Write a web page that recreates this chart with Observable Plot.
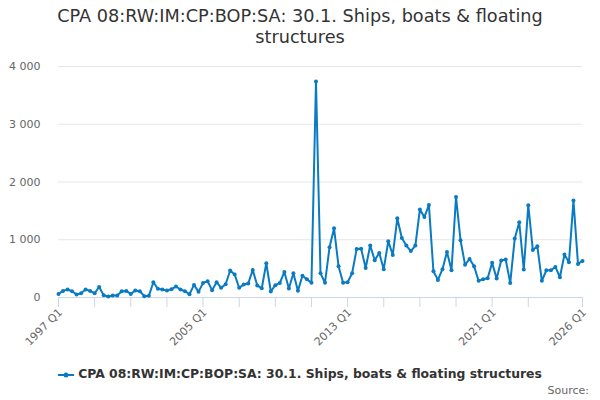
<!DOCTYPE html>
<html>
<head>
<meta charset="utf-8">
<script src="https://cdn.jsdelivr.net/npm/d3@7"></script>
<script src="https://cdn.jsdelivr.net/npm/@observablehq/plot@0.6"></script>
<style>
  body { margin: 0; background: #fff; }
  #wrap { position: relative; width: 600px; height: 400px; font-family: "DejaVu Sans", sans-serif; overflow: hidden; }
  #title { position: absolute; top: 6px; left: 40px; width: 520px; text-align: center; font-size: 17.7px; line-height: 21px; color: #333; }
  #chart { position: absolute; top: 50px; left: 0; }
  #legend { position: absolute; top: 366px; left: 0; width: 600px; text-align: center; font-size: 12.4px; font-weight: bold; color: #333; white-space: nowrap; }
  #legend svg { vertical-align: middle; margin-right: 4px; }
  #source { position: absolute; top: 384px; right: 11px; font-size: 11px; color: #666; }
</style>
</head>
<body>
<div id="wrap">
  <div id="title">CPA 08:RW:IM:CP:BOP:SA: 30.1. Ships, boats &amp; floating structures</div>
  <div id="chart"></div>
  <div id="legend"></div>
  <div id="source">Source:</div>
</div>
<script>
const seriesName = "CPA 08:RW:IM:CP:BOP:SA: 30.1. Ships, boats & floating structures";
const startYear = 1997;
const values = [
  62, 114, 138, 109, 52, 74, 138, 114, 74, 183, 40, 17, 35, 35, 109, 114,
  62, 120, 109, 23, 29, 265, 150, 138, 120, 144, 190, 138, 109, 57, 218, 98,
  253, 281, 127, 265, 167, 230, 467, 398, 167, 225, 242, 478, 207, 161, 593, 104,
  213, 253, 443, 155, 420, 115, 378, 314, 256, 3742, 418, 256, 870, 1199, 540, 256,
  265, 420, 838, 844, 510, 900, 646, 772, 490, 974, 738, 1372, 1030, 900, 804, 899,
  1522, 1395, 1600, 455, 305, 490, 789, 472, 1741, 991, 565, 668, 542, 288, 317, 334,
  600, 328, 640, 657, 253, 1020, 1303, 484, 1597, 824, 888, 288, 472, 472, 530, 351,
  743, 611, 1678, 582, 634
];
const labelTicks = ["1997 Q1", "2005 Q1", "2013 Q1", "2021 Q1", "2026 Q1"];
const yTicks = [0, 1000, 2000, 3000, 4000];
const gridTicks = [1000, 2000, 3000, 4000];

const quarters = values.map((_, i) => `${startYear + Math.floor(i / 4)} Q${(i % 4) + 1}`);
const data = values.map((v, i) => ({q: quarters[i], v}));
const minorTicks = quarters.filter((q, i) => i % 8 === 0 && i < quarters.length - 8).concat([quarters[quarters.length - 1]]);

const color = "#0a7bc2";
const fmt = d => d3.format(",")(d).replace(/,/g, " ");

const chart = Plot.plot({
  width: 600,
  height: 300,
  marginLeft: 58,
  marginRight: 18,
  marginTop: 16,
  marginBottom: 53,
  style: {fontFamily: "DejaVu Sans, sans-serif", fontSize: "11px", color: "#666", background: "transparent"},
  x: {type: "point", domain: quarters, padding: 0, align: 0.5, label: null, axis: null},
  y: {domain: [0, 4000], label: null, axis: null},
  marks: [
    Plot.gridY(gridTicks, {stroke: "#e6e6e6", strokeOpacity: 1}),
    Plot.axisY(yTicks, {tickSize: 0, tickPadding: 18, tickFormat: fmt, fill: "#666", fontSize: 11}),
    Plot.ruleY([0], {stroke: "#ccd6eb"}),
    Plot.axisX(minorTicks, {tickSize: 10, tickFormat: () => "", stroke: "#ccd6eb", strokeOpacity: 1}),
    Plot.axisX(labelTicks, {tickSize: 0, tickRotate: -45, tickPadding: 13, dx: 2, fill: "#666", fontSize: 11}),
    Plot.line(data, {x: "q", y: "v", stroke: color, strokeWidth: 2}),
    Plot.dot(data, {x: "q", y: "v", r: 2, fill: color, stroke: "none"})
  ]
});
document.getElementById("chart").appendChild(chart);

const legend = document.getElementById("legend");
legend.innerHTML = `<svg width="16" height="10"><line x1="0" y1="5" x2="16" y2="5" stroke="${color}" stroke-width="2"/><circle cx="8" cy="5" r="2.5" fill="${color}"/></svg>`;
legend.appendChild(document.createTextNode(seriesName));
</script>
</body>
</html>
